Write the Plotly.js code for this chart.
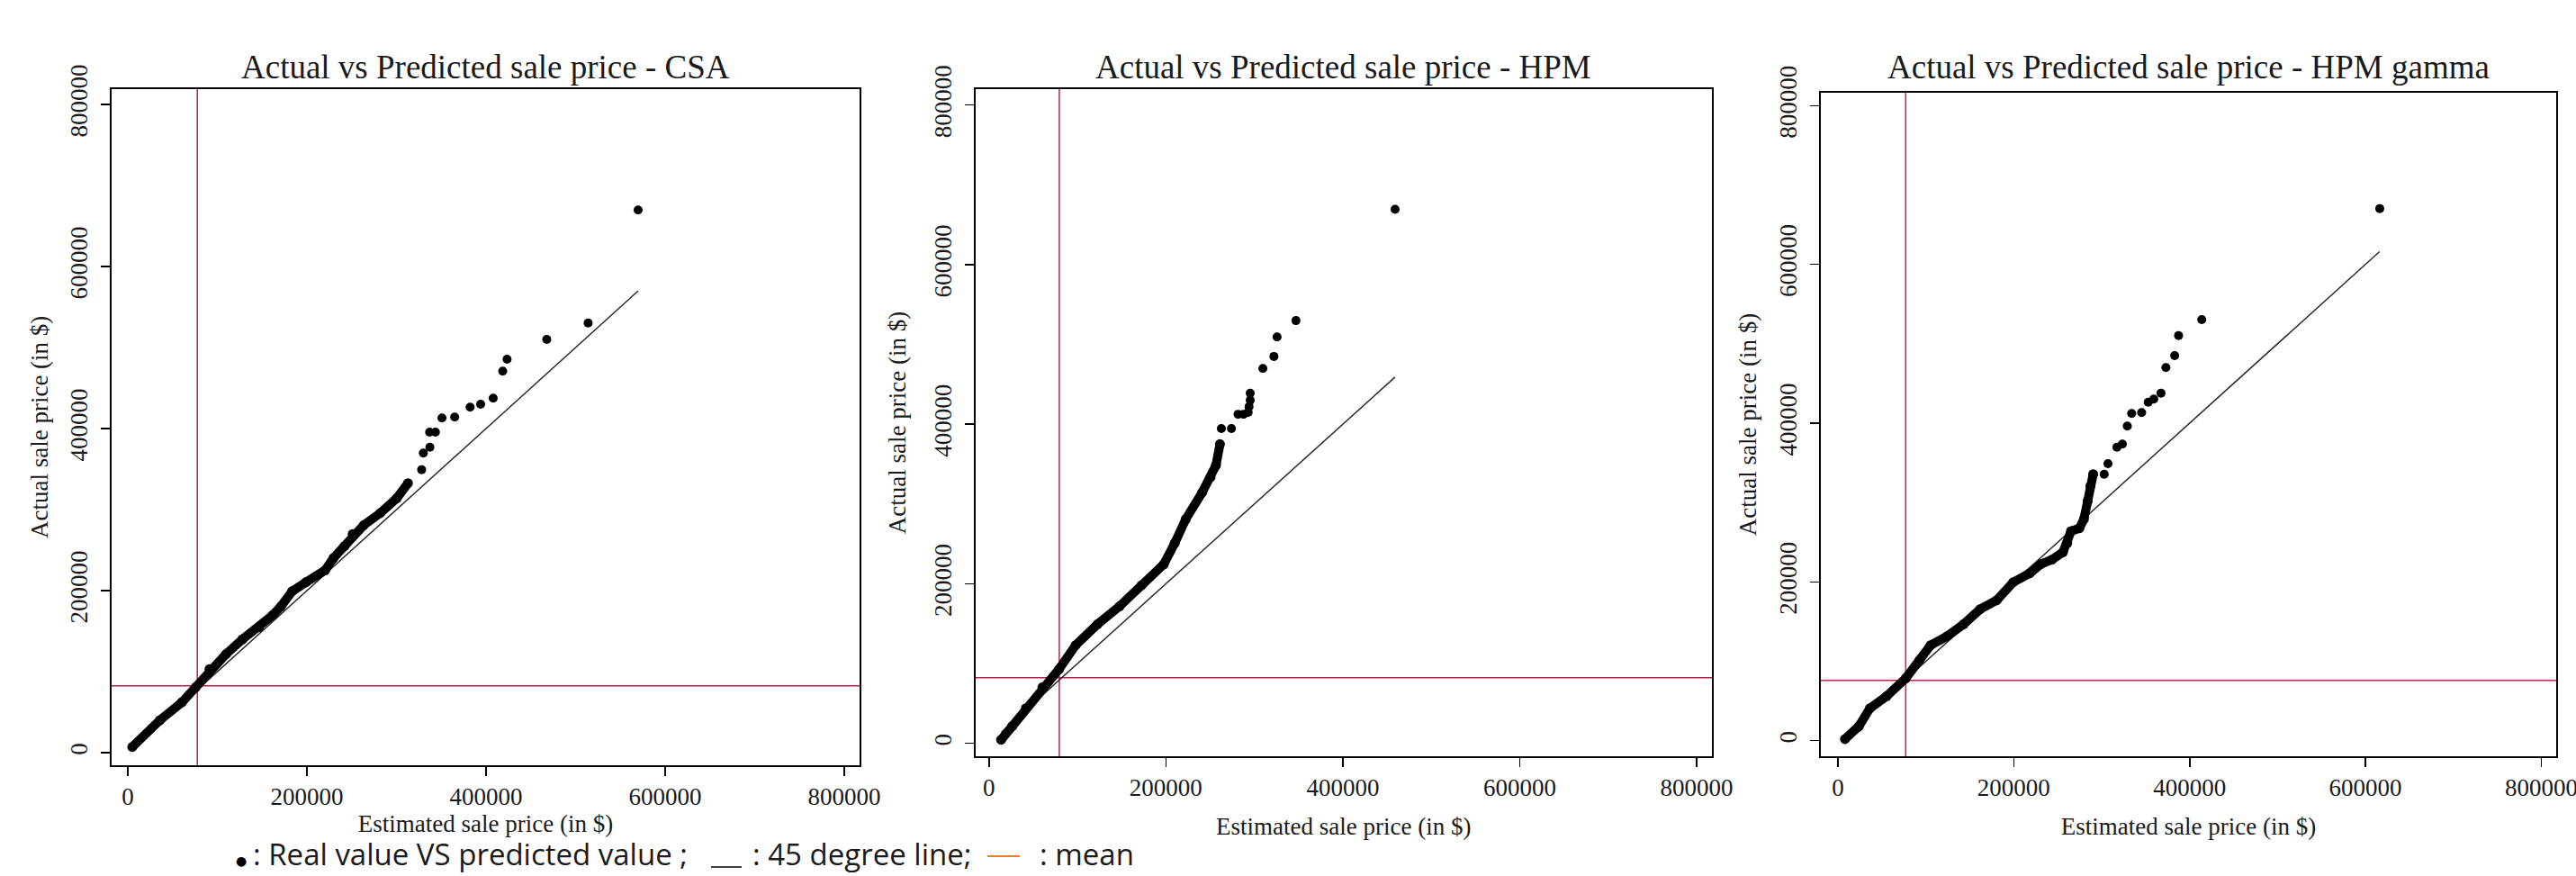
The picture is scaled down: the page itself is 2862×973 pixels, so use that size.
<!DOCTYPE html>
<html>
<head>
<meta charset="utf-8">
<script src="https://cdn.plot.ly/plotly-3.0.1.min.js"></script>
<style>
html, body { margin: 0; padding: 0; background: #ffffff; }
#chart { width: 2862px; height: 973px; }
</style>
</head>
<body>
<div id="chart"></div>
<script>
// ---------------- data ----------------
const panelTitles = [
  "Actual vs Predicted sale price - CSA",
  "Actual vs Predicted sale price - HPM",
  "Actual vs Predicted sale price - HPM gamma"
];
const xAxisTitle = "Estimated sale price (in $)";
const yAxisTitle = "Actual sale price (in $)";
const tickValues = [0, 200000, 400000, 600000, 800000];
const tickLabels = ["0", "200000", "400000", "600000", "800000"];
const keyLabels = [": Real value VS predicted value ;", ": 45 degree line;", ": mean"];

// CSA
const csaDensePred   = [5000, 35800, 60400, 75800, 91200, 109600, 128000, 146500, 161900, 171200, 183500, 198900, 220400, 229600, 241900, 251100, 263500, 281900, 300400, 312800];
const csaDenseActual = [7000, 40000, 62200, 80700, 103000, 121500, 140000, 154800, 169700, 180800, 199200, 210300, 225200, 240000, 254800, 269700, 280800, 295600, 314100, 332600];
const csaSparsePred   = [328100, 330000, 337300, 337000, 343500, 350800, 365000, 382200, 394000, 408000, 418600, 423500, 467800, 514000, 569800];
const csaSparseActual = [349200, 369700, 377000, 395600, 395600, 413000, 414100, 426300, 430000, 437400, 470800, 485500, 510000, 530300, 669700];
const csaLineEnds = [5000, 570000];
const csaMeanPred = 77600;
const csaMeanActual = 82600;

// HPM
const hpmDensePred   = [13700, 26200, 41700, 60400, 79200, 97900, 122700, 147700, 172500, 197600, 210000, 222400, 241100, 250500, 256600, 261100];
const hpmDenseActual = [4500, 21400, 44000, 70400, 93000, 123000, 149400, 172000, 198200, 224500, 251000, 280900, 314700, 333600, 348600, 375000];
const hpmSparsePred   = [262700, 274100, 281600, 287800, 293000, 294000, 295300, 295300, 309600, 322100, 325700, 347000, 459100];
const hpmSparseActual = [394500, 394500, 412500, 412500, 415000, 422000, 430000, 438800, 470000, 485000, 509500, 529900, 669400];
const hpmLineEnds = [14000, 459000];
const hpmMeanPred = 79500;
const hpmMeanActual = 82300;

// HPM gamma
const gamDensePred   = [8000, 23800, 36400, 55300, 77200, 92800, 105400, 124200, 143000, 161700, 180600, 199400, 218200, 230700, 243300, 255900, 260800, 265100, 274600, 279700, 284000, 287100, 290300];
const gamDenseActual = [2000, 18100, 40800, 56000, 78700, 101400, 120200, 131600, 146800, 165600, 176900, 199600, 210900, 222300, 228000, 237500, 248800, 263900, 267700, 279000, 301700, 320600, 335700];
const gamSparsePred   = [302800, 307100, 317300, 323500, 329100, 334100, 345400, 352900, 359200, 367400, 373000, 383000, 387400, 413800, 616200];
const gamSparseActual = [335700, 349000, 369700, 373600, 396300, 412100, 413300, 426400, 430300, 437800, 470000, 485100, 510300, 530400, 670300];
const gamLineEnds = [8000, 616000];
const gamMeanPred = 77100;
const gamMeanActual = 76000;

// ---------------- layout geometry ----------------
const W = 2862, H = 973;
const panels = [
  { densX: csaDensePred, densY: csaDenseActual, spX: csaSparsePred, spY: csaSparseActual, line: csaLineEnds,
    meanX: csaMeanPred, meanY: csaMeanActual, meanColor: "#b8204c",
    box: [124, 955, 98.7, 850], xr: [-18100, 817100], yr: [-15560, 819200], xStand: 5, yStand: 12 },
  { densX: hpmDensePred, densY: hpmDenseActual, spX: hpmSparsePred, spY: hpmSparseActual, line: hpmLineEnds,
    meanX: hpmMeanPred, meanY: hpmMeanActual, meanColor: "#b8204c",
    box: [1083.5, 1902, 99, 840], xr: [-15570, 817300], yr: [-16140, 820000], xStand: 19, yStand: 18 },
  { densX: gamDensePred, densY: gamDenseActual, spX: gamSparsePred, spY: gamSparseActual, line: gamLineEnds,
    meanX: gamMeanPred, meanY: gamMeanActual, meanColor: "#e6174a",
    box: [2023, 2840, 103, 840], xr: [-19450, 816900], yr: [-19620, 816200], xStand: 19, yStand: 13 }
];

const serif = "Liberation Serif, Times New Roman, serif";
const traces = [];
const layout = {
  width: W, height: H,
  margin: { l: 0, r: 0, t: 0, b: 0, pad: 0 },
  paper_bgcolor: "#ffffff", plot_bgcolor: "#ffffff",
  showlegend: false,
  font: { family: serif, color: "#1a1a1a" },
  annotations: [], shapes: []
};

panels.forEach((p, i) => {
  const n = i === 0 ? "" : String(i + 1);
  const xa = "x" + n, ya = "y" + n;
  const [l, r, t, b] = p.box;
  traces.push({ x: p.line, y: p.line, xaxis: xa, yaxis: ya, mode: "lines",
    line: { color: "#2a2a2a", width: 1.5 }, hoverinfo: "skip" });
  traces.push({ x: p.densX, y: p.densY, xaxis: xa, yaxis: ya, mode: "lines+markers",
    line: { color: "#000000", width: 10 }, marker: { color: "#000000", size: 11 } });
  traces.push({ x: p.spX, y: p.spY, xaxis: xa, yaxis: ya, mode: "markers",
    marker: { color: "#000000", size: 10 } });

  layout["xaxis" + n] = {
    domain: [l / W, r / W], range: p.xr, anchor: ya,
    showline: true, mirror: true, linecolor: "#000", linewidth: 2,
    ticks: "outside", ticklen: 10, tickwidth: 1.5, tickcolor: "#000",
    tickmode: "array", tickvals: tickValues, ticktext: tickLabels,
    tickfont: { family: serif, size: 27, color: "#1a1a1a" },
    ticklabelstandoff: 0, ticklabeloverflow: "allow",
    showgrid: false, zeroline: false, automargin: false, fixedrange: true,
    title: { text: xAxisTitle, font: { family: serif, size: 27, color: "#1a1a1a" }, standoff: p.xStand }
  };
  layout["yaxis" + n] = {
    domain: [(H - b) / H, (H - t) / H], range: p.yr, anchor: xa,
    showline: true, mirror: true, linecolor: "#000", linewidth: 2,
    ticks: "outside", ticklen: 10, tickwidth: 1.5, tickcolor: "#000",
    tickmode: "array", tickvals: tickValues, ticktext: tickLabels,
    tickangle: -90,
    tickfont: { family: serif, size: 27, color: "#1a1a1a" },
    ticklabelstandoff: 4, ticklabeloverflow: "allow",
    showgrid: false, zeroline: false, automargin: false, fixedrange: true,
    title: { text: yAxisTitle, font: { family: serif, size: 27, color: "#1a1a1a" }, standoff: p.yStand }
  };

  layout.annotations.push({
    text: panelTitles[i], xref: xa + " domain", yref: "paper", x: 0.5, y: (H - 75) / H,
    xanchor: "center", yanchor: "middle", showarrow: false,
    font: { family: serif, size: 37, color: "#1a1a1a" }
  });

  layout.shapes.push({ type: "line", xref: xa, yref: ya + " domain", x0: p.meanX, x1: p.meanX, y0: 0, y1: 1,
    line: { color: p.meanColor, width: 1.5 }, layer: "below" });
  layout.shapes.push({ type: "line", xref: xa + " domain", yref: ya, x0: 0, x1: 1, y0: p.meanY, y1: p.meanY,
    line: { color: p.meanColor, width: 1.5 }, layer: "below" });
});

// ---------------- bottom key ----------------
const keyFont = { family: "Open Sans, Noto Sans, sans-serif", size: 33, color: "#1a1a1a" };
const keyBottom = 0;
layout.annotations.push({ text: "\u25CF", xref: "paper", yref: "paper",
  x: 268 / W, y: (H - 956) / H, xanchor: "center", yanchor: "middle", showarrow: false,
  font: { family: "DejaVu Sans, sans-serif", size: 14, color: "#000" } });
layout.annotations.push({ text: keyLabels[0], xref: "paper", yref: "paper",
  x: 279 / W, y: keyBottom, xanchor: "left", yanchor: "bottom", showarrow: false, font: keyFont });
layout.annotations.push({ text: keyLabels[1], xref: "paper", yref: "paper",
  x: 834 / W, y: keyBottom, xanchor: "left", yanchor: "bottom", showarrow: false, font: keyFont });
layout.annotations.push({ text: keyLabels[2], xref: "paper", yref: "paper",
  x: 1153 / W, y: keyBottom, xanchor: "left", yanchor: "bottom", showarrow: false, font: keyFont });
layout.shapes.push({ type: "line", xref: "paper", yref: "paper", x0: 790 / W, x1: 824 / W,
  y0: (H - 963) / H, y1: (H - 963) / H, line: { color: "#404040", width: 2 } });
layout.shapes.push({ type: "line", xref: "paper", yref: "paper", x0: 1097 / W, x1: 1133 / W,
  y0: (H - 951) / H, y1: (H - 951) / H, line: { color: "#ed7d31", width: 2 } });

Plotly.newPlot("chart", traces, layout, { staticPlot: true, displayModeBar: false });
</script>
</body>
</html>
